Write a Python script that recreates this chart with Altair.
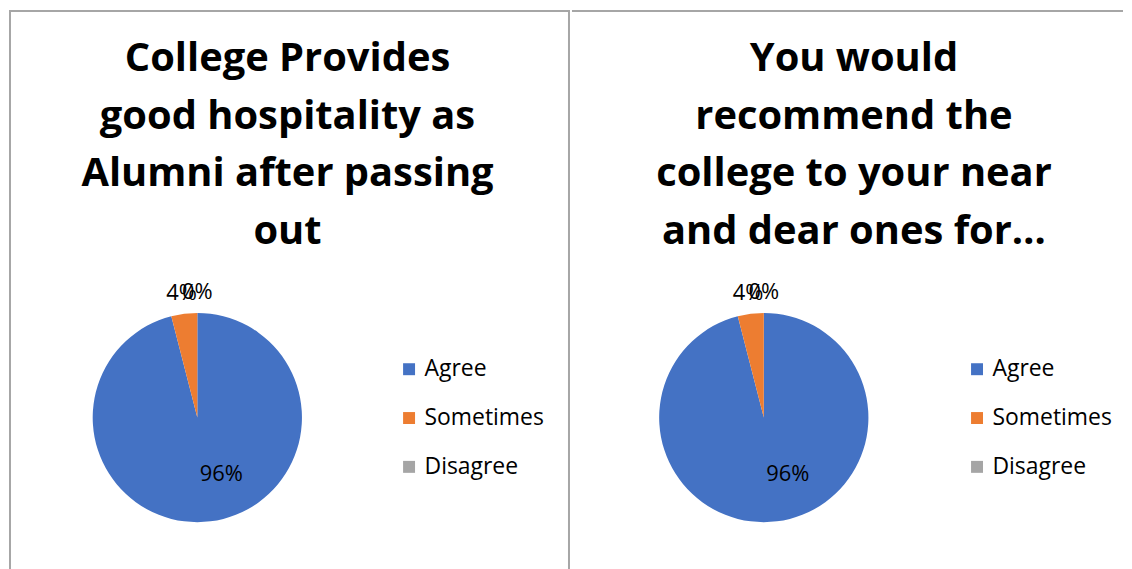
import altair as alt
import pandas as pd

categories = ["Agree", "Sometimes", "Disagree"]
values_left = [96, 4, 0]
values_right = [96, 4, 0]
colors = ["#4472C4", "#ED7D31", "#A5A5A5"]
title_left = ["College Provides", "good hospitality as", "Alumni after passing", "out"]
title_right = ["You would", "recommend the", "college to your near", "and dear ones for…"]

FONT = "Open Sans"
BORDER = "#A6A6A6"
H = 561


def rule(x, x2, y, y2):
    return alt.Chart(pd.DataFrame({"a": [0]})).mark_rule(color=BORDER, strokeWidth=2).encode(
        x=alt.value(x), x2=alt.value(x2), y=alt.value(y), y2=alt.value(y2)
    )


def panel(values, title_lines, w, cx, cy, tx, lx, borders):
    df = pd.DataFrame({"category": categories, "value": values, "order": list(range(len(categories)))})
    base = alt.Chart(df).transform_joinaggregate(total="sum(value)").transform_calculate(
        share="datum.value / datum.total"
    )
    theta = alt.Theta("value:Q", stack=True)
    order = alt.Order("order:O", sort="ascending")
    color = alt.Color(
        "category:N",
        scale=alt.Scale(domain=categories, range=colors),
        sort=categories,
        legend=alt.Legend(
            orient="none", legendX=lx, legendY=349, title=None,
            symbolType="square", symbolSize=144, symbolStrokeWidth=0,
            labelFontSize=23, labelFont=FONT, labelColor="#000000",
            labelOffset=4, rowPadding=25, labelLimit=300,
        ),
    )
    pie = base.mark_arc(radius=105, stroke=None).encode(
        theta=theta, color=color, order=order,
        x=alt.value(cx), y=alt.value(cy),
    )
    inside = base.transform_calculate(
        lab="datum.value >= 50 ? format(datum.share, '.0%') : ''"
    ).mark_text(radius=57, dx=17, font=FONT, fontSize=22, color="#000000").encode(
        theta=theta, order=order, text="lab:N", x=alt.value(cx), y=alt.value(cy)
    )
    outside = base.transform_calculate(
        lab="datum.value < 50 ? format(datum.share, '.0%') : ''"
    ).mark_text(radius=126, font=FONT, fontSize=22, color="#000000").encode(
        theta=theta, order=order, text="lab:N", x=alt.value(cx), y=alt.value(cy)
    )
    tdf = pd.DataFrame({"t": ["\n".join(title_lines)]})
    title = alt.Chart(tdf).mark_text(
        font=FONT, fontSize=40, fontWeight="bold", color="#000000",
        lineBreak="\n", lineHeight=58, baseline="alphabetic", align="center",
    ).encode(text="t:N", x=alt.value(tx), y=alt.value(61))
    lines = [rule(*b) for b in borders]
    return alt.layer(*lines, title, pie, inside, outside).properties(width=w, height=H)


left = panel(values_left, title_left, 563, 189, 409, 279.5, 390,
             [(0, 563, 1, 1), (1, 1, 0, H), (562, 562, 0, H)])
right = panel(values_right, title_right, 553, 192.5, 409, 283, 395,
              [(0, 553, 1, 1)])

chart = alt.hconcat(left, right, spacing=0).resolve_scale(color="independent").resolve_legend(
    color="independent"
).configure(padding=0).configure_view(stroke=None)

chart.save("out.html", embed_options={"renderer": "svg", "actions": False})
